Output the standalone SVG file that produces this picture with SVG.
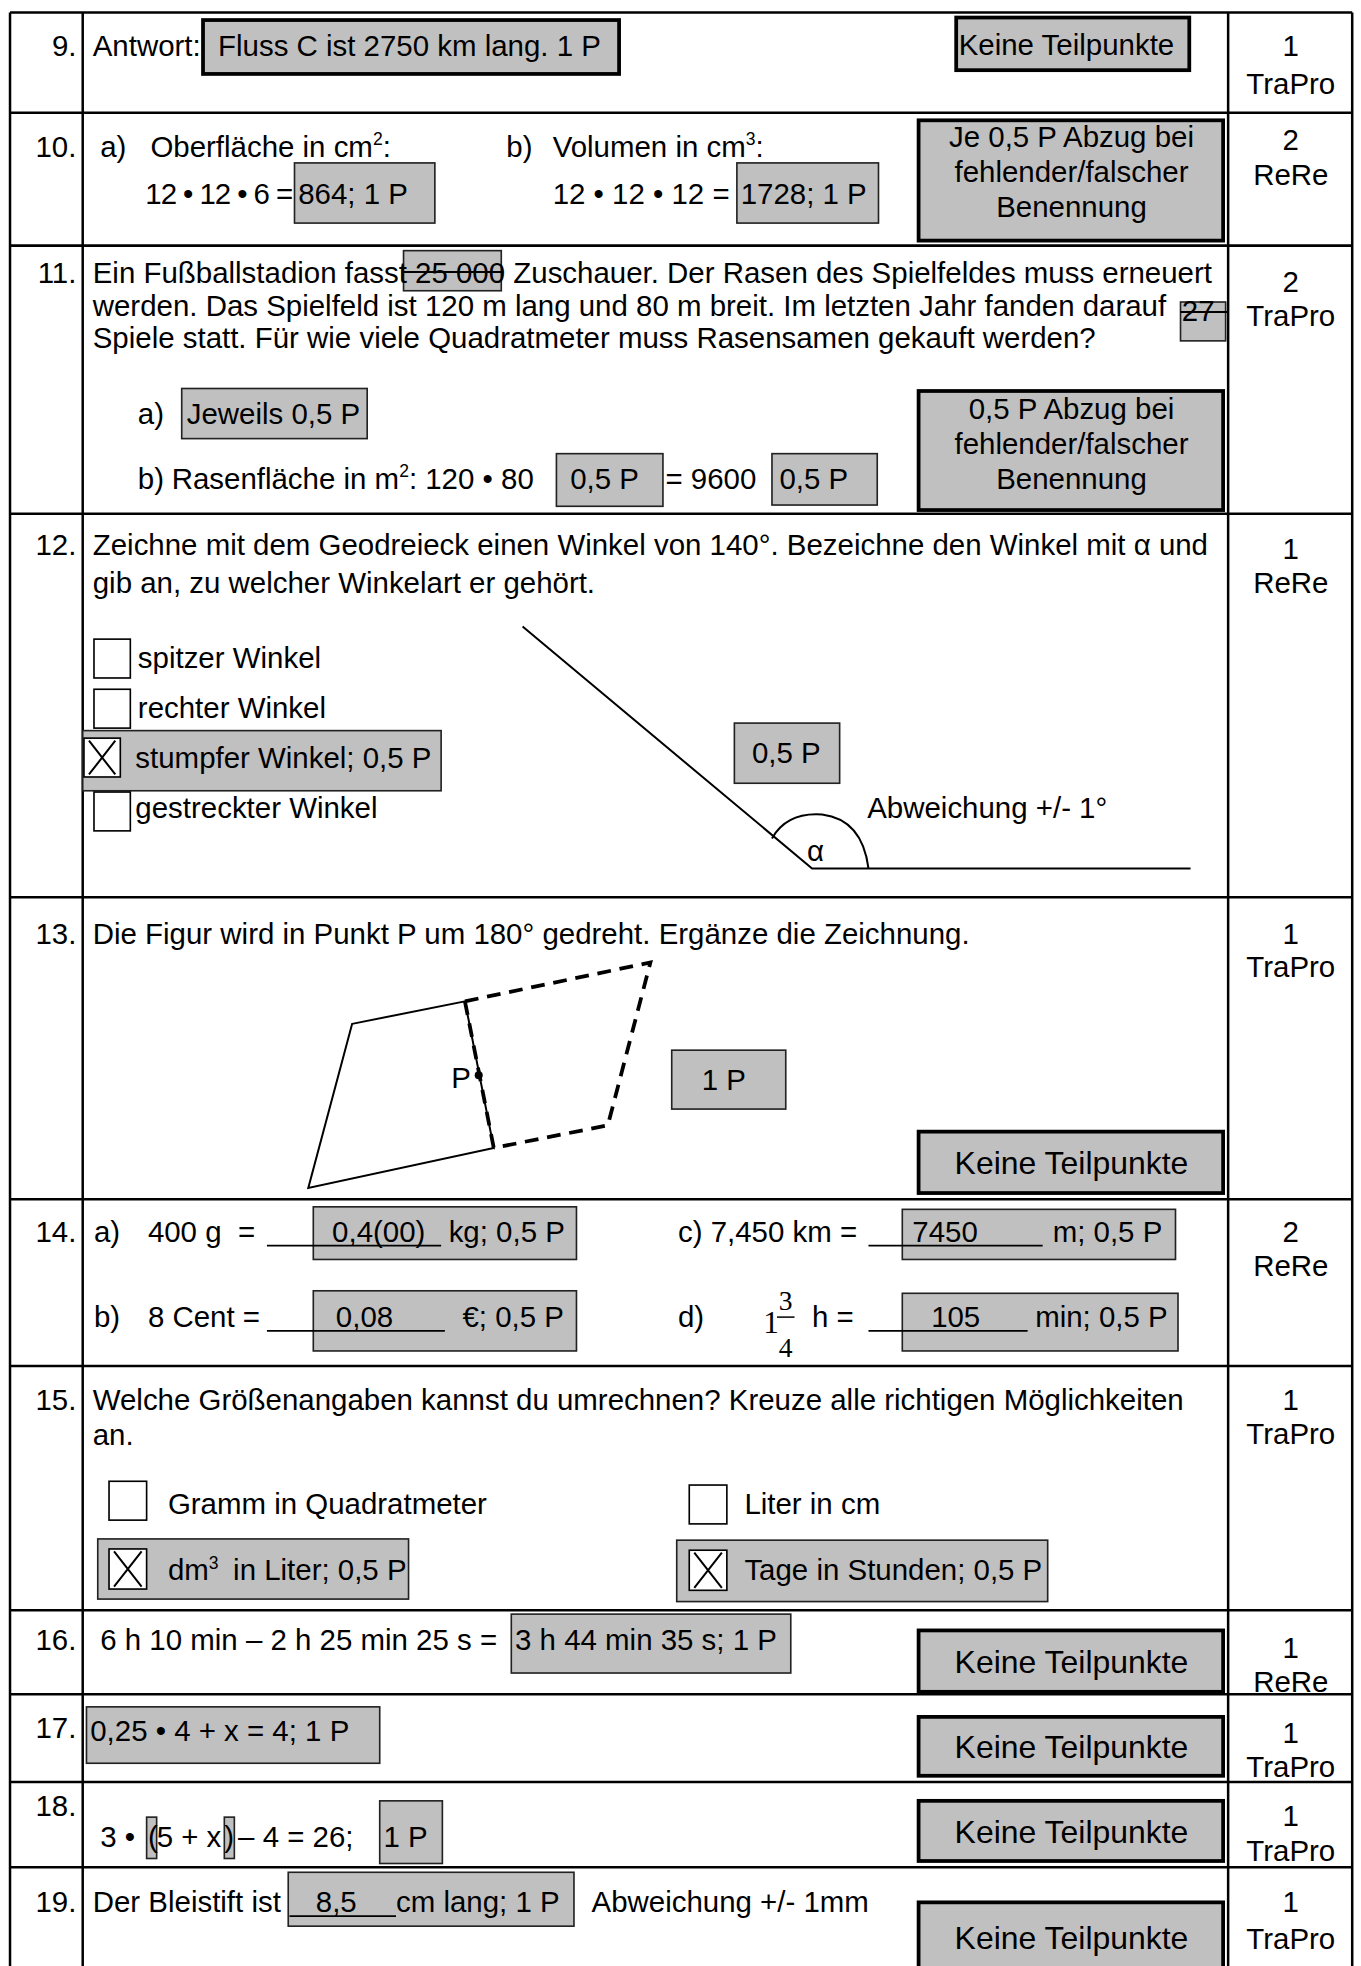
<svg xmlns="http://www.w3.org/2000/svg" width="1361" height="1966" viewBox="0 0 1361 1966">
<style>
text{font-family:"Liberation Sans",Arial,sans-serif;font-size:23.5px;fill:#000;white-space:pre}
.c{text-anchor:middle}
.r{text-anchor:end}
.big{font-size:25.5px}
.sup{font-size:14px}
.tm{font-family:"Liberation Serif","Times New Roman",serif}
.g{fill:#c0c0c0;stroke:#222;stroke-width:1.3}
.gk{fill:#c0c0c0;stroke:#000;stroke-width:3}
.cb{fill:#fff;stroke:#000;stroke-width:1.3}
.ln{stroke:#000;stroke-width:2;fill:none}
.fig{stroke:#000;stroke-width:1.6;fill:none}
.ul{stroke:#000;stroke-width:1.5}
</style>
<rect width="1361" height="1966" fill="#fff"/>
<g transform="scale(1.2532)">
<g id="table">
<line class="ln" x1="8" y1="10" x2="1079" y2="10"/>
<line class="ln" x1="8" y1="10" x2="8" y2="1570"/>
<line class="ln" x1="66" y1="10" x2="66" y2="1570"/>
<line class="ln" x1="980" y1="10" x2="980" y2="1570"/>
<line class="ln" x1="1079" y1="10" x2="1079" y2="1570"/>
<line class="ln" x1="8" y1="90" x2="1079" y2="90"/>
<line class="ln" x1="8" y1="196" x2="1079" y2="196"/>
<line class="ln" x1="8" y1="410" x2="1079" y2="410"/>
<line class="ln" x1="8" y1="716" x2="1079" y2="716"/>
<line class="ln" x1="8" y1="957" x2="1079" y2="957"/>
<line class="ln" x1="8" y1="1090" x2="1079" y2="1090"/>
<line class="ln" x1="8" y1="1285" x2="1079" y2="1285"/>
<line class="ln" x1="8" y1="1352" x2="1079" y2="1352"/>
<line class="ln" x1="8" y1="1422" x2="1079" y2="1422"/>
<line class="ln" x1="8" y1="1490" x2="1079" y2="1490"/>
</g>

<g id="q9">
<text class="r" x="61" y="45">9.</text>
<text x="74" y="45">Antwort:</text>
<rect class="gk" x="162" y="16" width="332" height="43"/>
<text x="174" y="45">Fluss C ist 2750 km lang. 1 P</text>
<rect class="gk" x="763" y="14" width="186" height="42"/>
<text x="765" y="44">Keine Teilpunkte</text>
<text class="c" x="1030" y="45">1</text>
<text class="c" x="1030" y="75">TraPro</text>
</g>

<g id="q10">
<text class="r" x="61" y="125">10.</text>
<text x="80" y="125">a)</text>
<text x="120" y="125">Oberfläche in cm<tspan class="sup" dy="-9">2</tspan><tspan dy="9">:</tspan></text>
<text x="404" y="125">b)</text>
<text x="441" y="125">Volumen in cm<tspan class="sup" dy="-9">3</tspan><tspan dy="9">:</tspan></text>
<rect class="g" x="235" y="130" width="112" height="48"/>
<text x="116" y="163" textLength="118">12 • 12 • 6 =</text>
<text x="238" y="163">864; 1 P</text>
<rect class="g" x="588" y="130" width="113" height="48"/>
<text x="441" y="163">12 • 12 • 12 =</text>
<text x="591" y="163">1728; 1 P</text>
<rect class="gk" x="733" y="96" width="243" height="96"/>
<text class="c" x="855" y="117">Je 0,5 P Abzug bei</text>
<text class="c" x="855" y="145">fehlender/falscher</text>
<text class="c" x="855" y="173">Benennung</text>
<text class="c" x="1030" y="120">2</text>
<text class="c" x="1030" y="148">ReRe</text>
</g>

<g id="q11">
<text class="r" x="61" y="226">11.</text>
<rect class="g" x="322" y="200" width="78" height="32"/>
<text x="74" y="226">Ein Fußballstadion fasst 25 000 Zuschauer. Der Rasen des Spielfeldes muss erneuert</text>
<line class="ul" x1="322" y1="217" x2="401" y2="217"/>
<rect class="g" x="942" y="241" width="36" height="31"/>
<text x="74" y="252">werden. Das Spielfeld ist 120 m lang und 80 m breit. Im letzten Jahr fanden darauf</text>
<text x="943" y="256">27</text>
<line class="ul" x1="942" y1="249" x2="980" y2="249"/>
<text x="74" y="278">Spiele statt. Für wie viele Quadratmeter muss Rasensamen gekauft werden?</text>
<text x="110" y="338">a)</text>
<rect class="g" x="145" y="310" width="148" height="40"/>
<text x="149" y="338">Jeweils 0,5 P</text>
<text x="110" y="390">b)</text>
<text x="137" y="390">Rasenfläche in m<tspan class="sup" dy="-9">2</tspan><tspan dy="9">: 120 • 80</tspan></text>
<rect class="g" x="444" y="362" width="85" height="42"/>
<text x="455" y="390">0,5 P</text>
<text x="531" y="390">= 9600</text>
<rect class="g" x="616" y="362" width="84" height="41"/>
<text x="622" y="390">0,5 P</text>
<rect class="gk" x="733" y="312" width="243" height="95"/>
<text class="c" x="855" y="334">0,5 P Abzug bei</text>
<text class="c" x="855" y="362">fehlender/falscher</text>
<text class="c" x="855" y="390">Benennung</text>
<text class="c" x="1030" y="233">2</text>
<text class="c" x="1030" y="260">TraPro</text>
</g>

<g id="q12">
<text class="r" x="61" y="443">12.</text>
<text x="74" y="443">Zeichne mit dem Geodreieck einen Winkel von 140°. Bezeichne den Winkel mit α und</text>
<text x="74" y="473">gib an, zu welcher Winkelart er gehört.</text>
<rect class="cb" x="75" y="510" width="29" height="31"/>
<text x="110" y="533">spitzer Winkel</text>
<rect class="cb" x="75" y="550" width="29" height="31"/>
<text x="110" y="573">rechter Winkel</text>
<rect class="g" x="66" y="583" width="286" height="48"/>
<rect class="cb" x="67" y="589" width="29" height="31"/>
<path class="fig" d="M71,591 L92,618 M92,591 L71,618" stroke-width="2"/>
<text x="108" y="613">stumpfer Winkel; 0,5 P</text>
<rect class="cb" x="75" y="632" width="29" height="31"/>
<text x="108" y="653">gestreckter Winkel</text>
<path class="fig" d="M417,500 L648,693 L950,693" stroke-width="2.2"/>
<path class="fig" d="M616,669 Q628,648 656,650 Q688,654 693,693" stroke-width="2.2"/>
<text x="644" y="687">α</text>
<rect class="g" x="586" y="577" width="84" height="48"/>
<text x="600" y="609">0,5 P</text>
<text x="692" y="653">Abweichung +/- 1°</text>
<text class="c" x="1030" y="446">1</text>
<text class="c" x="1030" y="473">ReRe</text>
</g>

<g id="q13">
<text class="r" x="61" y="753">13.</text>
<text x="74" y="753">Die Figur wird in Punkt P um 180° gedreht. Ergänze die Zeichnung.</text>
<path class="fig" d="M281,817 L371,799 L394,916 L246,948 Z"/>
<path d="M371,799 L519,768 L485,898 L394,916 M371,799 L394,916" fill="none" stroke="#000" stroke-width="3" stroke-dasharray="11,7"/>
<circle cx="382" cy="858" r="3.2" fill="#000"/>
<text x="360" y="868">P</text>
<rect class="g" x="536" y="838" width="91" height="47"/>
<text x="560" y="870">1 P</text>
<rect class="gk" x="733" y="903" width="243" height="49"/>
<text class="c big" x="855" y="937">Keine Teilpunkte</text>
<text class="c" x="1030" y="753">1</text>
<text class="c" x="1030" y="780">TraPro</text>
</g>

<g id="q14">
<text class="r" x="61" y="991">14.</text>
<text x="75" y="991">a)</text>
<text x="118" y="991">400 g</text>
<text x="190" y="991">=</text>
<rect class="g" x="250" y="963" width="210" height="42"/>
<line class="ul" x1="213" y1="994" x2="352" y2="994"/>
<text x="265" y="991">0,4(00)</text>
<text x="358" y="991">kg; 0,5 P</text>
<text x="75" y="1059">b)</text>
<text x="118" y="1059">8 Cent =</text>
<rect class="g" x="250" y="1030" width="210" height="48"/>
<line class="ul" x1="213" y1="1062" x2="355" y2="1062"/>
<text x="268" y="1059">0,08</text>
<text x="369" y="1059">€; 0,5 P</text>
<text x="541" y="991">c) 7,450 km =</text>
<rect class="g" x="720" y="965" width="218" height="40"/>
<line class="ul" x1="693" y1="994" x2="832" y2="994"/>
<text x="728" y="991">7450</text>
<text x="840" y="991">m; 0,5 P</text>
<text x="541" y="1059">d)</text>
<text class="tm" x="609" y="1064" style="font-size:25px">1</text>
<text class="tm c" x="627" y="1045" style="font-size:22px">3</text>
<line x1="620" y1="1051" x2="634" y2="1051" stroke="#000" stroke-width="1.2"/>
<text class="tm c" x="627" y="1083" style="font-size:22px">4</text>
<text x="648" y="1059">h =</text>
<rect class="g" x="720" y="1032" width="220" height="46"/>
<line class="ul" x1="693" y1="1062" x2="820" y2="1062"/>
<text x="743" y="1059">105</text>
<text x="826" y="1059">min; 0,5 P</text>
<text class="c" x="1030" y="991">2</text>
<text class="c" x="1030" y="1018">ReRe</text>
</g>

<g id="q15">
<text class="r" x="61" y="1125">15.</text>
<text x="74" y="1125">Welche Größenangaben kannst du umrechnen? Kreuze alle richtigen Möglichkeiten</text>
<text x="74" y="1153">an.</text>
<rect class="cb" x="87" y="1182" width="30" height="31"/>
<text x="134" y="1208">Gramm in Quadratmeter</text>
<rect class="cb" x="550" y="1185" width="30" height="31"/>
<text x="594" y="1208">Liter in cm</text>
<rect class="g" x="78" y="1228" width="248" height="48"/>
<rect class="cb" x="87" y="1236" width="30" height="32"/>
<path class="fig" d="M91,1238 L113,1266 M113,1238 L91,1266" stroke-width="2"/>
<text x="134" y="1261">dm<tspan class="sup" dy="-9">3</tspan></text>
<text x="186" y="1261">in Liter; 0,5 P</text>
<rect class="g" x="540" y="1229" width="296" height="49"/>
<rect class="cb" x="550" y="1237" width="30" height="32"/>
<path class="fig" d="M554,1239 L576,1267 M576,1239 L554,1267" stroke-width="2"/>
<text x="594" y="1261">Tage in Stunden; 0,5 P</text>
<text class="c" x="1030" y="1125">1</text>
<text class="c" x="1030" y="1152">TraPro</text>
</g>

<g id="q16">
<text class="r" x="61" y="1317">16.</text>
<rect class="g" x="408" y="1288" width="223" height="47"/>
<text x="80" y="1317">6 h 10 min – 2 h 25 min 25 s =</text>
<text x="411" y="1317">3 h 44 min 35 s; 1 P</text>
<rect class="gk" x="733" y="1301" width="243" height="49"/>
<text class="c big" x="855" y="1335">Keine Teilpunkte</text>
<text class="c" x="1030" y="1323">1</text>
<text class="c" x="1030" y="1350">ReRe</text>
</g>

<g id="q17">
<text class="r" x="61" y="1387">17.</text>
<rect class="g" x="69" y="1362" width="234" height="45"/>
<text x="72" y="1389">0,25 • 4 + x = 4; 1 P</text>
<rect class="gk" x="733" y="1370" width="243" height="47"/>
<text class="c big" x="855" y="1403">Keine Teilpunkte</text>
<text class="c" x="1030" y="1391">1</text>
<text class="c" x="1030" y="1418">TraPro</text>
</g>

<g id="q18">
<text class="r" x="61" y="1449">18.</text>
<rect class="g" x="117" y="1450" width="8" height="33"/>
<rect class="g" x="179" y="1450" width="8" height="33"/>
<text x="80" y="1474">3 •</text>
<text x="118" y="1474">(</text>
<text x="125" y="1474">5 + x</text>
<text x="179" y="1474">)</text>
<text x="190" y="1474">– 4 = 26;</text>
<rect class="g" x="303" y="1437" width="50" height="50"/>
<text x="306" y="1474">1 P</text>
<rect class="gk" x="733" y="1437" width="243" height="48"/>
<text class="c big" x="855" y="1471">Keine Teilpunkte</text>
<text class="c" x="1030" y="1457">1</text>
<text class="c" x="1030" y="1485">TraPro</text>
</g>

<g id="q19">
<text class="r" x="61" y="1526">19.</text>
<text x="74" y="1526">Der Bleistift ist</text>
<rect class="g" x="230" y="1494" width="228" height="43"/>
<line class="ul" x1="231" y1="1529" x2="316" y2="1529"/>
<text x="252" y="1526">8,5</text>
<text x="316" y="1526">cm lang; 1 P</text>
<text x="472" y="1526">Abweichung +/- 1mm</text>
<rect class="gk" x="733" y="1518" width="243" height="56"/>
<text class="c big" x="855" y="1555">Keine Teilpunkte</text>
<text class="c" x="1030" y="1526">1</text>
<text class="c" x="1030" y="1555">TraPro</text>
</g>
</g>
</svg>
